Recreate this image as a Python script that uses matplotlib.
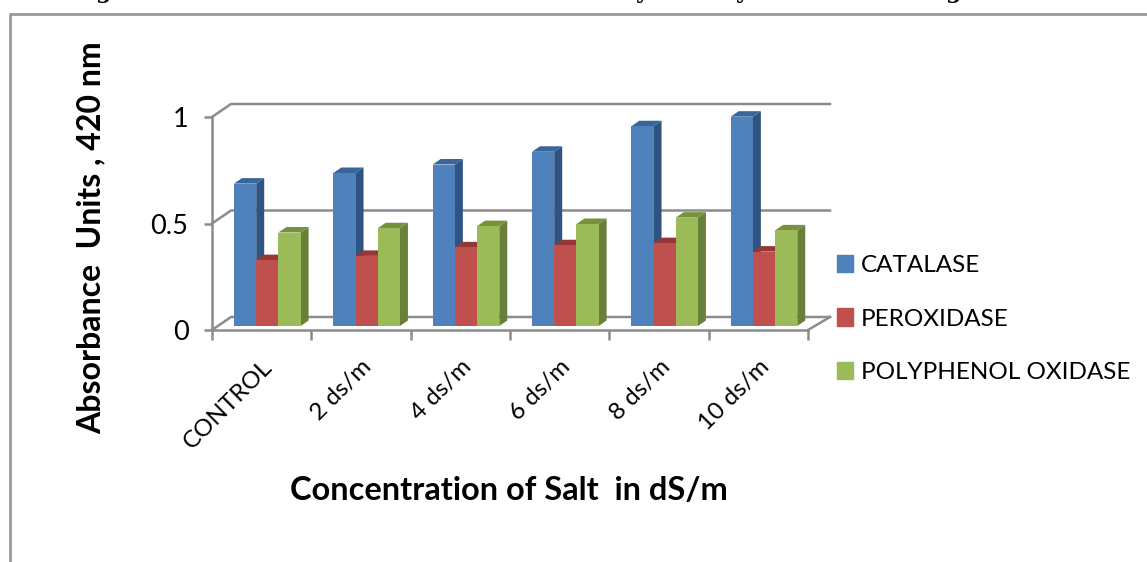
#!/usr/bin/env python3
"""Absorbance of three enzymes against salt concentration, drawn as fake 3D bars."""

import matplotlib
matplotlib.use('Agg')
import matplotlib.pyplot as plt
from matplotlib.patches import Patch, Polygon, Rectangle

categories = ['CONTROL', '2 ds/m', '4 ds/m', '6 ds/m', '8 ds/m', '10 ds/m']
catalase = [0.67, 0.72, 0.76, 0.82, 0.94, 0.985]
peroxidase = [0.31, 0.33, 0.37, 0.38, 0.39, 0.35]
polyphenol = [0.44, 0.46, 0.47, 0.48, 0.51, 0.45]
y_ticks = [0, 0.5, 1]

series_names = ['CATALASE', 'PEROXIDASE', 'POLYPHENOL OXIDASE']
front_colors = ['#4f81bd', '#c0504d', '#9bbb59']
side_colors = ['#2f5482', '#8a3432', '#68803a']
top_colors = ['#3a659b', '#953735', '#76923c']
GRID = '#8c8c8c'

W, H = 1147, 562
plt.rcParams['font.family'] = ['Lato', 'DejaVu Sans']

fig = plt.figure(figsize=(W / 100, H / 100), dpi=100)
ax = fig.add_axes([212 / W, 1 - 330 / H, 596 / W, 213 / H])
ax.set_xlim(0, 6)
ax.set_ylim(0, 1)
ax.patch.set_visible(False)
for side in ['top', 'right']:
    ax.spines[side].set_visible(False)
for side in ['left', 'bottom']:
    ax.spines[side].set_color(GRID)
    ax.spines[side].set_linewidth(1.8)

# pixel sizes turned into data units
px_x = 6 / 596
px_y = 1 / 213

# back wall gridlines and the diagonals joining them to the y axis
wall_dx, wall_dy = 19 * px_x, 13 * px_y
for v in y_ticks:
    ax.plot([0, wall_dx, 6 + 22 * px_x], [v, v + wall_dy, v + wall_dy],
            color=GRID, lw=1.8, clip_on=False, zorder=1)
ax.plot([6, 6 + 22 * px_x], [0, wall_dy], color=GRID, lw=1.8, clip_on=False, zorder=1)

# bars
bar_w = 22.2 * px_x
group_left = 22 * px_x
depth_x, depth_y = 8 * px_x, 5.5 * px_y
base = 4 * px_y
for s, values in enumerate([catalase, peroxidase, polyphenol]):
    for i, v in enumerate(values):
        x0 = i + group_left + s * bar_w
        x1 = x0 + bar_w
        top = base + v * (212.5 * px_y)
        ax.add_patch(Polygon([(x1, base), (x1 + depth_x, base + depth_y),
                              (x1 + depth_x, top + depth_y), (x1, top)],
                             facecolor=side_colors[s], edgecolor='none', clip_on=False, zorder=3))
        ax.add_patch(Polygon([(x0, top), (x0 + depth_x, top + depth_y),
                              (x1 + depth_x, top + depth_y), (x1, top)],
                             facecolor=top_colors[s], edgecolor='none', clip_on=False, zorder=3))
        ax.add_patch(Rectangle((x0, base), bar_w, top - base, facecolor=front_colors[s],
                               edgecolor='none', clip_on=False, zorder=3))

ax.set_xticks(range(7))
ax.set_xticklabels([])
ax.set_xticks([i + 0.5 for i in range(6)], minor=True)
ax.set_xticklabels(categories, minor=True, rotation=45, ha='right', rotation_mode='anchor', fontsize=17.5)
ax.tick_params(axis='x', which='major', length=7, width=1.8, color=GRID)
ax.tick_params(axis='x', which='minor', length=0, pad=19)
ax.set_yticks(y_ticks)
ax.set_yticklabels(['0', '0.5', '1'], fontsize=19.5)
ax.tick_params(axis='y', length=6, width=1.8, color=GRID, pad=11)

fig.text(91 / W, 1 - 238 / H, 'Absorbance  Units , 420 nm', rotation=90, ha='center', va='center',
         fontsize=23, fontweight='bold')
fig.text(509 / W, 1 - 491 / H, 'Concentration of Salt  in dS/m', ha='center', va='center',
         fontsize=23.4, fontweight='bold')

handles = [Patch(color=c) for c in front_colors]
fig.legend(handles, series_names, loc='center left', bbox_to_anchor=(825 / W, 1 - 319 / H),
           frameon=False, fontsize=17.5, handlelength=0.66, handleheight=0.7, handletextpad=0.33,
           labelspacing=1.33, borderpad=0)

# page frame around the chart, open at the right and bottom
fig.add_artist(plt.Line2D([10 / W, 10 / W, 1], [0, 1 - 14 / H, 1 - 14 / H], color='#999999', lw=2))

# the heading above is cut off by the crop, only its descenders remain
for px, ch in [(103, 'g'), (642, 'y'), (742, 'y'), (953, 'g')]:
    fig.text(px / W, 1 + 2 / H, ch, family='DejaVu Serif', fontsize=16, fontweight='bold',
             ha='center', va='baseline', clip_on=False)

fig.savefig('out.png', dpi=100)
